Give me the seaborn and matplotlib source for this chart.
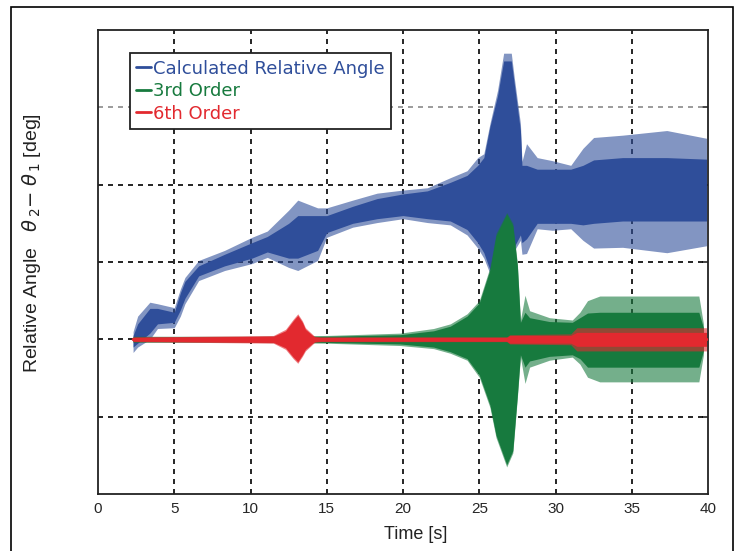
import numpy as np
import pandas as pd
import matplotlib
matplotlib.use('Agg')
import matplotlib.pyplot as plt
import matplotlib.patches as patches
from matplotlib.lines import Line2D
import seaborn as sns

# Envelopes (deg); the signals are so dense they print as bands
blue_t = [2.3, 2.6, 3.4, 3.9, 5.0, 5.4, 5.7, 6.6, 8.3, 10.1, 11.1, 12.5, 13.1, 14.4,
          15.0, 16.7, 18.3, 20.0, 21.6, 23.1, 24.2, 24.9, 25.3, 25.7, 26.2, 26.6,
          27.1, 27.3, 27.7, 27.8, 28.1, 28.8, 29.8, 31.0, 31.8, 32.5, 34.4, 37.3, 39.9]
blue_hi = [1.0, 3.0, 4.8, 4.6, 4.1, 6.5, 8.0, 10.2, 11.5, 13.2, 14.0, 16.7, 18.0, 17.0,
           17.0, 18.0, 18.9, 19.3, 19.6, 20.9, 21.8, 23.5, 24.0, 27.9, 32.2, 37.0,
           37.0, 33.8, 27.9, 23.0, 25.3, 23.5, 23.1, 22.5, 24.7, 26.1, 26.4, 27.0, 26.0]
blue_lo = [-1.7, -1.0, 0.0, 1.4, 1.5, 3.0, 4.6, 7.6, 8.9, 9.8, 10.6, 9.3, 8.9, 10.2,
           13.2, 14.5, 15.1, 15.6, 15.1, 14.8, 13.5, 11.8, 10.5, 8.5, 7.8, 8.5,
           10.0, 11.5, 12.8, 11.0, 11.1, 14.3, 14.1, 14.3, 12.8, 11.8, 11.9, 11.2, 12.1]
blue_core_hi = [0.5, 2.0, 4.0, 4.0, 3.5, 6.0, 7.5, 9.5, 11.0, 12.5, 13.3, 15.0, 16.0, 16.0,
                16.0, 17.2, 18.2, 18.8, 19.2, 20.3, 21.2, 22.5, 23.5, 27.5, 31.5, 36.0,
                36.0, 33.0, 27.0, 22.5, 22.5, 22.0, 22.0, 22.0, 22.5, 23.2, 23.5, 23.5, 23.3]
blue_core_lo = [-1.0, -0.5, 0.8, 2.0, 2.2, 3.8, 5.3, 8.2, 9.5, 10.5, 11.3, 10.5, 10.5, 11.5,
                13.8, 15.0, 15.6, 16.0, 15.6, 15.3, 14.2, 12.5, 11.2, 9.0, 8.2, 8.5,
                10.5, 12.0, 13.5, 12.5, 13.0, 15.0, 15.0, 15.0, 14.8, 15.0, 15.3, 15.3, 15.3]

green_t = [2.3, 10.0, 15.0, 19.8, 22.0, 23.1, 24.2, 25.0, 25.7, 26.1, 26.8, 27.2,
           27.5, 27.7, 28.0, 28.3, 29.6, 31.1, 31.6, 32.1, 32.9, 39.4, 39.7]
green_hi = [0.4, 0.4, 0.5, 0.8, 1.4, 2.0, 3.3, 5.0, 9.3, 13.7, 16.4, 15.0,
            9.8, 2.5, 5.7, 3.7, 2.8, 2.5, 3.5, 5.0, 5.6, 5.6, 2.0]
green_lo = [-0.4, -0.4, -0.5, -0.8, -1.2, -1.8, -2.7, -4.9, -8.8, -12.7, -16.5, -14.7,
            -7.5, -2.3, -5.7, -3.6, -2.7, -2.3, -3.2, -4.9, -5.5, -5.5, -2.0]
green_core_hi = [0.3, 0.3, 0.4, 0.6, 1.1, 1.7, 3.0, 4.7, 9.0, 13.4, 16.2, 14.7,
                 9.5, 2.2, 3.5, 2.8, 2.3, 2.2, 2.8, 3.4, 3.5, 3.5, 1.5]
green_core_lo = [-0.3, -0.3, -0.4, -0.6, -1.0, -1.6, -2.5, -4.6, -8.5, -12.4, -16.2, -14.4,
                 -7.2, -2.0, -3.6, -2.8, -2.2, -2.0, -2.5, -3.6, -3.6, -3.6, -1.5]

red_t = [2.3, 11.5, 12.3, 12.8, 13.1, 13.4, 13.6, 14.2, 14.6, 26.8, 27.0, 31.0, 31.4, 39.9]
red_hi = [0.3, 0.5, 1.3, 2.6, 3.3, 2.4, 1.5, 0.4, 0.3, 0.3, 0.6, 0.7, 1.5, 1.5]
red_lo = [-0.3, -0.5, -1.3, -2.5, -3.1, -2.2, -1.5, -0.4, -0.3, -0.3, -0.6, -0.7, -1.5, -1.5]
red_core_hi = [0.25, 0.4, 1.1, 2.4, 3.1, 2.2, 1.3, 0.3, 0.25, 0.25, 0.5, 0.5, 0.9, 0.9]
red_core_lo = [-0.25, -0.4, -1.1, -2.3, -2.9, -2.0, -1.3, -0.3, -0.25, -0.25, -0.5, -0.5, -0.9, -0.9]

labels = ['Calculated Relative Angle', '3rd Order', '6th Order']
colors = ['#2f4e9a', '#177a3e', '#e2292f']
x_ticks = [0, 5, 10, 15, 20, 25, 30, 35, 40]

sns.set_style('white')
plt.rcParams['font.family'] = ['Liberation Sans Narrow', 'Liberation Sans', 'DejaVu Sans']
plt.rcParams['mathtext.fontset'] = 'dejavusans'

fig = plt.figure(figsize=(7.4, 5.51), dpi=100)
ax = fig.add_axes([98 / 740, 57 / 551, 610 / 740, 464 / 551])

series = [
    (blue_t, blue_hi, blue_lo, blue_core_hi, blue_core_lo),
    (green_t, green_hi, green_lo, green_core_hi, green_core_lo),
    (red_t, red_hi, red_lo, red_core_hi, red_core_lo),
]
for (t, hi, lo, chi, clo), c in zip(series, colors):
    df = pd.DataFrame({'t': t, 'hi': hi, 'lo': lo, 'chi': chi, 'clo': clo})
    ax.fill_between(df['t'], df['lo'], df['hi'], color=c, alpha=0.6, lw=0, zorder=3)
    ax.fill_between(df['t'], df['clo'], df['chi'], color=c, lw=0, zorder=3)

# thin red centre trace
red_line = pd.DataFrame({'t': [red_t[0], red_t[-1]], 'v': [0, 0]})
sns.lineplot(data=red_line, x='t', y='v', ax=ax, color=colors[2], lw=2.5, zorder=4)

ax.set_xlim(0, 40)
ax.set_ylim(-20, 40)
ax.set_xticks(x_ticks)
ax.set_xticklabels([str(v) for v in x_ticks], fontsize=11)
ax.set_yticks([-10, 0, 10, 20, 30])
ax.set_yticklabels([])
ax.tick_params(axis='x', length=0, pad=6)
ax.tick_params(axis='y', direction='in', length=4, right=True, left=False, width=1.2)

for x in x_ticks[1:-1]:
    ax.axvline(x, color='black', ls=(0, (3, 3)), lw=1.2, zorder=1)
for y in [-10, 0, 10, 20]:
    ax.axhline(y, color='black', ls=(0, (3, 3)), lw=1.2, zorder=1)
ax.axhline(30, color='#8a8a8a', ls=(0, (3, 3)), lw=1.2, zorder=1)

for s in ax.spines.values():
    s.set_color('#222222')
    s.set_linewidth(1.3)

ax.set_xlabel('Time [s]', fontsize=13, color='#222222')
ax.xaxis.set_label_coords(0.52, -0.07)
ax.set_ylabel(r'Relative Angle   $\theta_{\,2}$$-$ $\theta_{\,1}$ [deg]', fontsize=14,
              color='#222222', family=['Liberation Sans', 'DejaVu Sans'])
ax.yaxis.set_label_coords(-0.09, 0.54)

handles = [Line2D([], [], color=c, lw=2) for c in colors]
leg = ax.legend(handles, labels, loc='upper left', bbox_to_anchor=(0.0525, 0.95),
                borderaxespad=0, handlelength=0.8, handletextpad=0.15, labelspacing=0.25,
                fancybox=False, framealpha=1, edgecolor='#222222', labelcolor=colors,
                prop={'family': ['DejaVu Sans'], 'size': 13}, borderpad=0.35)
leg.get_frame().set_linewidth(1.3)
leg.set_zorder(6)

fig.patches.append(patches.Rectangle((11 / 740, -0.02), 722 / 740, 1 - 7 / 551 + 0.02,
                                     transform=fig.transFigure, fill=False,
                                     edgecolor='black', lw=1.2))

fig.savefig('out.png', dpi=100)
